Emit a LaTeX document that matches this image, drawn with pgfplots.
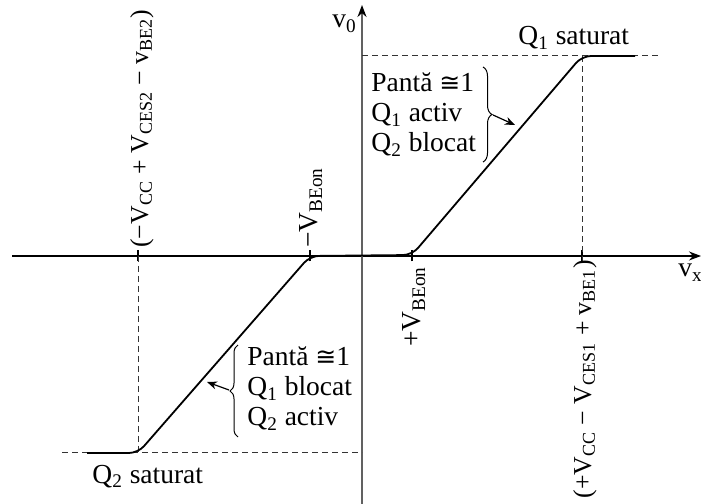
\documentclass[border=0pt]{standalone}
\usepackage{fontspec}
\setmainfont{Liberation Serif}
\newfontfamily\symfont{DejaVu Sans}
\usepackage{pgfplots}
\pgfplotsset{compat=1.18}
\usetikzlibrary{arrows.meta,decorations.pathreplacing}
\newcommand{\sub}[1]{\textsubscript{#1}}
\newcommand{\approxeq}{{\symfont\fontsize{12.5bp}{15bp}\selectfont ≅}}

\begin{document}
\begin{tikzpicture}[font=\fontsize{13.75bp}{16bp}\selectfont]
\begin{axis}[
  scale only axis, width=344.5bp, height=249.5bp,
  xmin=-350, xmax=339, ymin=-248, ymax=251,
  axis lines=middle,
  axis line style={line width=0.6bp, -{Stealth[length=6bp,width=4.5bp,color=black]}},
  y axis line style={draw=black!62, line width=0.9bp},
  xtick={-224,-52,50,220}, xticklabels={,,,}, ytick=\empty,
  tick align=center, major tick length=5.5bp,
  tick style={black, line width=0.6bp},
  clip=false,
]
% reference levels (saturation limits)
\addplot [black!80, line width=0.5bp, dash pattern=on 3bp off 2bp] coordinates {(-224,0) (-224,-197)};
\addplot [black!80, line width=0.5bp, dash pattern=on 3bp off 2bp] coordinates {(-300,-197) (0,-197)};
\addplot [black!80, line width=0.5bp, dash pattern=on 3bp off 2bp] coordinates {(220,-6) (220,200)};
\addplot [black!80, line width=0.5bp, dash pattern=on 3bp off 2bp] coordinates {(0,200) (298,200)};

% transfer characteristic v0(vx)
\addplot [black, line width=0.9bp, rounded corners=4.5bp] coordinates {
  (-275,-197) (-224,-197) (-52,0) (50,1) (220,200) (273,200)};

% axis names
\node [anchor=base west, inner sep=0] at (-30,228) {v\sub{0}};
\node [anchor=base west, inner sep=0] at (316,-21) {v\sub{x}};

% breakpoints on the vx axis
\node [rotate=90, anchor=west, inner sep=0, font=\fontsize{12.9bp}{15bp}\selectfont] at (-220,8)
  {(−V\sub{CC} + V\sub{CES2} − v\sub{BE2})};
\node [rotate=90, anchor=west, inner sep=0] at (-51,8) {−V\sub{BEon}};
\node [rotate=90, anchor=east, inner sep=0] at (52,-10) {+V\sub{BEon}};
\node [rotate=90, anchor=east, inner sep=0, font=\fontsize{12.9bp}{15bp}\selectfont] at (223,-4)
  {(+V\sub{CC} − V\sub{CES1} + v\sub{BE1})};

% saturation regions
\node [anchor=base west, inner sep=0] at (156,211) {Q\sub{1} saturat};
\node [anchor=base west, inner sep=0] at (-270,-227) {Q\sub{2} saturat};

% Q1 active region
\node [anchor=base west, inner sep=0] at (9,164) {Pantă \approxeq1};
\node [anchor=base west, inner sep=0] at (9,134) {Q\sub{1} activ};
\node [anchor=base west, inner sep=0] at (9,104) {Q\sub{2} blocat};
\draw [decorate, decoration={brace, amplitude=4.5bp}, line width=0.5bp]
  (121,189) -- (121,94);
\draw [-{Stealth[length=5bp,width=4bp]}, line width=0.6bp] (131,141) -- (153,131);

% Q2 active region
\node [anchor=base west, inner sep=0] at (-115,-110) {Pantă \approxeq1};
\node [anchor=base west, inner sep=0] at (-115,-140) {Q\sub{1} blocat};
\node [anchor=base west, inner sep=0] at (-115,-170) {Q\sub{2} activ};
\draw [decorate, decoration={brace, amplitude=4bp}, line width=0.5bp]
  (-124,-181) -- (-124,-89);
\draw [-{Stealth[length=5bp,width=4bp]}, line width=0.6bp] (-133,-134) -- (-155,-126);

\coordinate (bl) at (-362,-248);
\coordinate (tr) at (339,256);
\end{axis}
\pgfresetboundingbox
\path [use as bounding box] (bl) rectangle (tr);
\end{tikzpicture}
\end{document}
